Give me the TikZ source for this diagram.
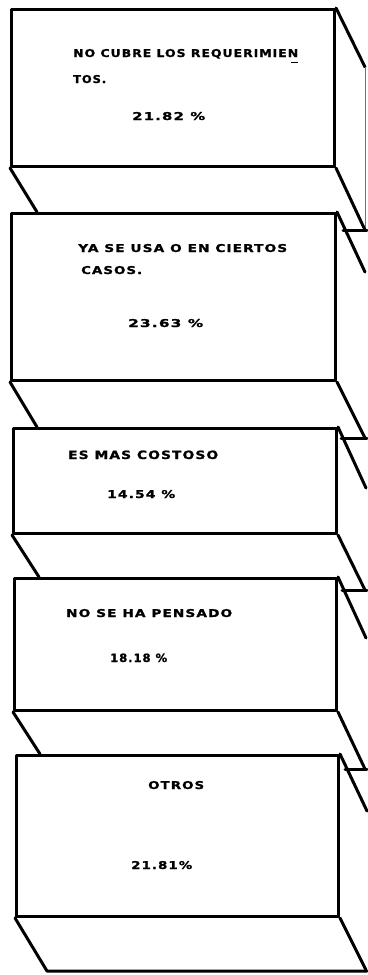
\documentclass[tikz,border=0pt]{standalone}
\usepackage{fontspec}
\usepackage{graphicx}
\newfontfamily\labfont{DejaVu Sans}[LetterSpace=8, FakeBold=1.2]
\newcommand\fitw[3][8pt]{\resizebox{#2}{#1}{\labfont\bfseries #3}}
\begin{document}
\begin{tikzpicture}[x=1pt,y=-1pt,
  box/.style={draw, line width=3pt, rectangle, inner sep=0pt, anchor=north west, line join=round},
  edge/.style={line width=3pt, line cap=round, line join=round},
  backline/.style={line width=0.6pt, black!55},
  lbl/.style={anchor=base west, inner sep=0pt}]
\useasboundingbox (0,0) rectangle (367,975);

% front faces
\node[box, minimum width=323pt, minimum height=157pt] (b1) at (10,8) {};
\node[box, minimum width=324pt, minimum height=167pt] (b2) at (10,212) {};
\node[box, minimum width=323pt, minimum height=105pt] (b3) at (12,427) {};
\node[box, minimum width=322pt, minimum height=132pt] (b4) at (13,577) {};
\node[box, minimum width=322pt, minimum height=161pt] (b5) at (15,754) {};

% end points of receding edges
\coordinate (t1) at (365,67);   \coordinate (r1) at (365,230); \coordinate (l1) at (37,212);
\coordinate (t2) at (365,272);  \coordinate (r2) at (365,438); \coordinate (l2) at (37,427);
\coordinate (t3) at (366,488);  \coordinate (r3) at (365,590); \coordinate (l3) at (39,577);
\coordinate (t4) at (366,638);  \coordinate (r4) at (365,769); \coordinate (l4) at (40,754);
\coordinate (t5) at (367,811);  \coordinate (r5) at (366,970); \coordinate (l5) at (47,971);
\coordinate (h1a) at (343,230); \coordinate (h1b) at (367,230);
\coordinate (h2a) at (341,438); \coordinate (h2b) at (367,438);
\coordinate (h3a) at (342,590); \coordinate (h3b) at (367,590);
\coordinate (h4a) at (345,769); \coordinate (h4b) at (367,769);
\coordinate (h5b) at (367,971);

% box 1
\draw[edge] (b1.north east) -- (t1);
\draw[backline] (t1) -- (r1);
\draw[edge] (b1.south east) -- (r1);
\draw[edge] (b1.south west) -- (l1);
\draw[edge] (h1a) -- (h1b);
% box 2
\draw[edge] (b2.north east) -- (t2);
\draw[edge] (b2.south east) -- (r2);
\draw[edge] (b2.south west) -- (l2);
\draw[edge] (h2a) -- (h2b);
% box 3
\draw[edge] (b3.north east) -- (t3);
\draw[edge] (b3.south east) -- (r3);
\draw[edge] (b3.south west) -- (l3);
\draw[edge] (h3a) -- (h3b);
% box 4
\draw[edge] (b4.north east) -- (t4);
\draw[edge] (b4.south east) -- (r4);
\draw[edge] (b4.south west) -- (l4);
\draw[edge] (h4a) -- (h4b);
% box 5
\draw[edge] (b5.north east) -- (t5);
\draw[edge] (b5.south east) -- (r5);
\draw[edge] (b5.south west) -- (l5) -- (h5b);

% labels
\node[lbl] (x1a) at (73,57)  {\fitw{225pt}{NO CUBRE LOS REQUERIMIEN}};
\draw[line width=1pt] (291,62) -- (298,62);
\node[lbl] (x1b) at (73,83)  {\fitw{33pt}{TOS.}};
\node[lbl] (x1c) at (132,120) {\fitw{73pt}{21.82 \%}};

\node[lbl] (x2a) at (78,252) {\fitw{209pt}{YA SE USA O EN CIERTOS}};
\node[lbl] (x2b) at (81,274) {\fitw{61pt}{CASOS.}};
\node[lbl] (x2c) at (128,327) {\fitw{75pt}{23.63 \%}};

\node[lbl] (x3a) at (68,459) {\fitw[8.5pt]{150pt}{ES MAS COSTOSO}};
\node[lbl] (x3b) at (107,498) {\fitw{68pt}{14.54 \%}};

\node[lbl] (x4a) at (66,617) {\fitw{166pt}{NO SE HA PENSADO}};
\node[lbl] (x4b) at (110,662) {\fitw[8.5pt]{57pt}{18.18 \%}};

\node[lbl] (x5a) at (148,789) {\fitw{56pt}{OTROS}};
\node[lbl] (x5b) at (131,869) {\fitw{61pt}{21.81\%}};
\end{tikzpicture}
\end{document}
